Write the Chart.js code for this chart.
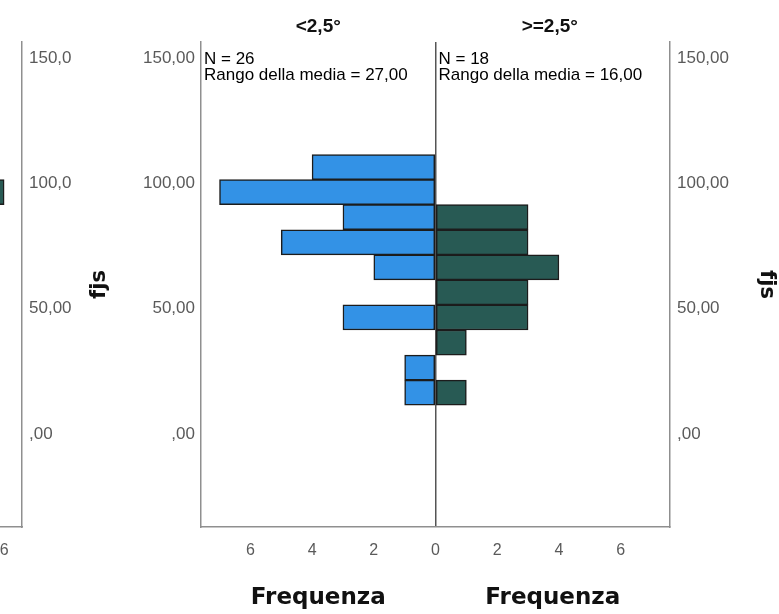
<!DOCTYPE html>
<html><head><meta charset="utf-8">
<script src="https://cdn.jsdelivr.net/npm/chart.js@4.4.1/dist/chart.umd.min.js"></script>
<style>
html,body{margin:0;padding:0;background:#fff;overflow:hidden;width:779px;height:614px;}
#wrap{position:relative;width:779px;height:614px;overflow:hidden;background:#fff;}
#prev{position:absolute;left:-240px;top:0;}
#main{position:absolute;left:0;top:0;}
</style></head><body>
<div id="wrap">
<canvas id="prev" width="320" height="614"></canvas>
<canvas id="main" width="779" height="614"></canvas>
</div>
<script>
// ---- data ----
const binCenters = [16.5, 26.5, 36.5, 46.5, 56.5, 66.5, 76.5, 86.5, 96.5, 106.5];
const freqLow  = [1, 1, 0, 3, 0, 2, 5, 3, 7, 4];   // <2,5°  (N = 26)
const freqHigh = [1, 0, 1, 3, 3, 4, 3, 3, 0, 0];   // >=2,5° (N = 18)
const groupLabels = ['<2,5°', '>=2,5°'];
const groupN = ['26', '18'];
const groupMeanRank = ['27,00', '16,00'];
const yTicks = [0, 50, 100, 150];
const yTickLabels = [',00', '50,00', '100,00', '150,00'];
const xTicks = [-6, -4, -2, 0, 2, 4, 6];
const xTickLabels = ['6', '4', '2', '0', '2', '4', '6'];
const axisTitleY = 'fjs';
const axisTitleX = 'Frequenza';
// visible fragment of the neighbouring chart at the left edge
const prevFreq = [null, null, null, null, null, null, null, null, 6, null];
const prevXTicks = [0, 2, 4, 6];
const prevXTickLabels = ['0', '2', '4', '6'];
const prevYTickLabels = [',00', '50,00', '100,0', '150,0'];

// ---- styles ----
const BLUE = '#3392e6', GREEN = '#285a54', EDGE = '#1c1c1c';
const AXIS = '#8f8f8f', TICK = '#5a5a5a';
const SANS = "'Liberation Sans', Arial, sans-serif";
Chart.defaults.font.family = SANS;
Chart.defaults.color = TICK;
const Y_MIN = -37.1, Y_MAX = 156.4;

function pts(vals, sign) {
  return binCenters.map((c, i) => ({ x: vals[i] ? sign * vals[i] : null, y: c }));
}
function barDs(data, color) {
  return { data, backgroundColor: color, borderColor: EDGE, borderWidth: 1.5,
    borderSkipped: false, grouped: false, barPercentage: 1, categoryPercentage: 1 };
}
function yAxis(position, labels, width, pad, titleShow, titlePad) {
  return {
    type: 'linear', position, min: Y_MIN, max: Y_MAX, offset: false,
    afterBuildTicks: s => { s.ticks = yTicks.map(v => ({ value: v })); },
    afterFit: s => { s.width = width; },
    ticks: { callback: v => labels[yTicks.indexOf(v)], padding: pad, font: { size: 17 }, color: TICK, autoSkip: false },
    grid: { display: false, drawTicks: false, offset: false },
    border: { display: true, color: AXIS, width: 1.5 },
    title: { display: titleShow, text: axisTitleY, color: '#111',
      font: { size: 21, weight: 'bold', family: "'DejaVu Sans', sans-serif" },
      padding: { top: titlePad, bottom: 0 } }
  };
}

const textPlugin = {
  id: 'pyramidTexts',
  afterDraw(chart) {
    const { ctx, chartArea: a, scales: { x } } = chart;
    const z = x.getPixelForValue(0);
    const centers = [(a.left + z) / 2, (z + a.right) / 2 - 3];
    const lefts = [a.left, z];
    ctx.save();
    ctx.fillStyle = '#111';
    ctx.textAlign = 'center';
    ctx.textBaseline = 'middle';
    ctx.font = 'bold 19px ' + SANS;
    groupLabels.forEach((t, i) => ctx.fillText(t, centers[i], a.top - 15));
    ctx.font = "bold 23px 'DejaVu Sans', sans-serif";
    [(a.left + z) / 2, (z + a.right) / 2].forEach(c => ctx.fillText(axisTitleX, c, a.bottom + 71));
    ctx.textAlign = 'left';
    ctx.fillStyle = '#000';
    ctx.font = '17px ' + SANS;
    lefts.forEach((l, i) => {
      ctx.fillText('N = ' + groupN[i], l + 3, a.top + 17);
      ctx.fillText('Rango della media = ' + groupMeanRank[i], l + 3, a.top + 33);
    });
    ctx.restore();
  }
};

// ---- neighbouring chart fragment ----
new Chart(document.getElementById('prev'), {
  type: 'bar',
  data: { datasets: [barDs(binCenters.map((c, i) => ({ x: prevFreq[i], y: c })), GREEN)] },
  options: {
    indexAxis: 'y', responsive: false, animation: false, devicePixelRatio: 1,
    layout: { padding: { left: 3, right: 0, top: 42, bottom: 0 } },
    plugins: { legend: { display: false }, tooltip: { enabled: false } },
    scales: {
      x: { type: 'linear', min: 0, max: 6.475,
        afterBuildTicks: s => { s.ticks = prevXTicks.map(v => ({ value: v })); },
        afterFit: s => { s.height = 87; },
        ticks: { callback: v => prevXTickLabels[prevXTicks.indexOf(v)], padding: 14, font: { size: 16 }, color: TICK, autoSkip: false, maxRotation: 0 },
        grid: { display: false, drawTicks: false },
        border: { display: true, color: AXIS, width: 1.5 } },
      y: yAxis('right', prevYTickLabels, 58, 7, false, 0)
    }
  }
});

// ---- main population pyramid ----
new Chart(document.getElementById('main'), {
  type: 'bar',
  data: { datasets: [barDs(pts(freqLow, -1), BLUE), barDs(pts(freqHigh, 1), GREEN)] },
  options: {
    indexAxis: 'y', responsive: false, animation: false, devicePixelRatio: 1,
    layout: { padding: { left: 84, right: 0, top: 42, bottom: 0 } },
    plugins: { legend: { display: false }, tooltip: { enabled: false } },
    scales: {
      x: { type: 'linear', min: -7.6, max: 7.6,
        afterBuildTicks: s => { s.ticks = xTicks.map(v => ({ value: v })); },
        afterFit: s => { s.height = 87; },
        ticks: { callback: v => xTickLabels[xTicks.indexOf(v)], padding: 14, font: { size: 16 }, color: TICK, autoSkip: false, maxRotation: 0 },
        grid: { display: true, drawTicks: false, lineWidth: 1.5,
          color: c => (c.tick && c.tick.value === 0) ? '#555555' : 'rgba(0,0,0,0)' },
        border: { display: true, color: AXIS, width: 1.5 } },
      y: yAxis('left', yTickLabels, 117, 6, true, 3.4),
      y2: yAxis('right', yTickLabels, 109, 7, true, 0)
    }
  },
  plugins: [textPlugin]
});
</script>
</body></html>
